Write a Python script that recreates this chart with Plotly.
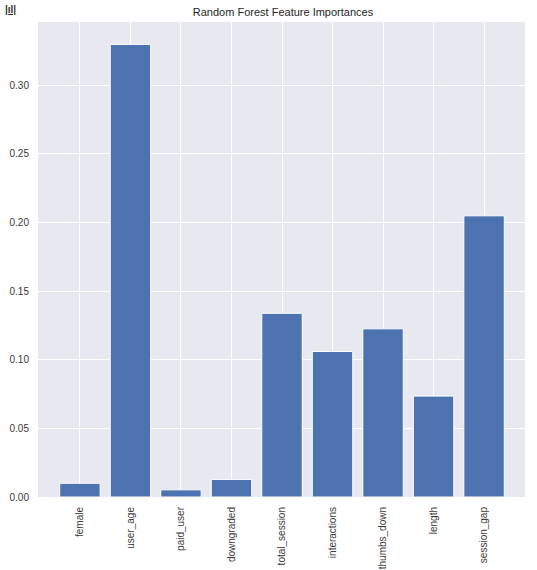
import plotly.graph_objects as go

features = ["female", "user_age", "paid_user", "downgraded", "total_session", "interactions", "thumbs_down", "length", "session_gap"]
importances = [0.0100, 0.3297, 0.0052, 0.0128, 0.1338, 0.1060, 0.1225, 0.0735, 0.2048]
y_ticks = [0.00, 0.05, 0.10, 0.15, 0.20, 0.25, 0.30]
title = "Random Forest Feature Importances"

fig = go.Figure(go.Bar(x=features, y=importances, marker=dict(color="#4c72b0", line=dict(width=1, color="white")), width=0.8))
fig.update_layout(
    width=537, height=570,
    margin=dict(l=38, r=12, t=22, b=73, autoexpand=False),
    paper_bgcolor="white", plot_bgcolor="#e8e8f1",
    font=dict(family="Liberation Sans, Arial, sans-serif", size=10, color="#3a3a3a"),
    title=dict(text=title, x=0.527, xanchor="center", y=0.979, yanchor="middle", font=dict(size=11, color="#262626")),
    showlegend=False,
    hovermode=False,
    annotations=[dict(text="<b><u>|ıl|</u></b>", xref="paper", yref="paper", x=-0.057, y=1.027, xanchor="center", yanchor="middle",
                      showarrow=False, font=dict(size=10, color="#333333"))],
)
fig.update_xaxes(range=[-0.83, 8.81], showgrid=True, gridcolor="white", gridwidth=1, tickangle=-90, ticks="", zeroline=False, showline=False, ticklabelstandoff=7)
fig.update_yaxes(range=[0, 0.346], tickvals=y_ticks, tickformat=".2f", showgrid=True, gridcolor="white", gridwidth=1, ticks="", zeroline=False, showline=False, ticklabelstandoff=8)
fig.write_html("out.html", config={"displayModeBar": False}, post_script="document.body.style.margin='0';")
